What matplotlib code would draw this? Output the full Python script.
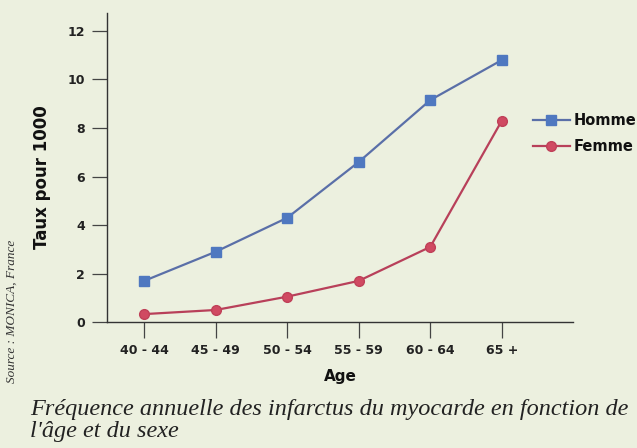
import matplotlib.pyplot as plt

ages = ['40 - 44', '45 - 49', '50 - 54', '55 - 59', '60 - 64', '65 +']
homme = [1.7, 2.9, 4.3, 6.6, 9.15, 10.8]
femme = [0.33, 0.5, 1.05, 1.7, 3.1, 8.3]
yticks = [0, 2, 4, 6, 8, 10, 12]

bg = '#ecf0df'
sans = ['DejaVu Sans']

fig = plt.figure(figsize=(6.37, 4.48), dpi=100, facecolor=bg)
ax = fig.add_axes([0.168, 0.281, 0.732, 0.69], facecolor=bg)

x = range(len(ages))
ax.plot(x, homme, color='#5a6fa8', lw=1.6, marker='s', ms=7,
        mfc='#4f78c0', mec='#4f78c0', label='Homme')
ax.plot(x, femme, color='#b8405a', lw=1.6, marker='o', ms=7,
        mfc='#d04a62', mec='#c04058', label='Femme')

ax.set_xlim(-0.52, 6.0)
ax.set_ylim(0, 12.74)
ax.set_yticks(yticks)
ax.set_xticks(list(x))
ax.set_xticklabels(ages)
for s in ['top', 'right']:
    ax.spines[s].set_visible(False)
for s in ['left', 'bottom']:
    ax.spines[s].set_color('#333333')
    ax.spines[s].set_linewidth(1.0)
ax.tick_params(axis='y', length=11, width=0.9, color='#444444', pad=5)
ax.tick_params(axis='x', length=11.5, width=0.9, color='#444444', pad=4)
for lab in ax.get_xticklabels() + ax.get_yticklabels():
    lab.set_family(sans)
    lab.set_fontweight('bold')
    lab.set_fontsize(9)
    lab.set_color('#222222')

ax.set_xlabel('Age', family=sans, fontweight='bold', fontsize=11, color='#111111', labelpad=9)
ax.set_ylabel('Taux pour 1000', family=sans, fontweight='bold', fontsize=12, color='#111111',
              va='center')
ax.yaxis.set_label_coords(-0.139, 0.47)

leg = fig.legend(loc='center left', bbox_to_anchor=(0.837, 0.702), frameon=False,
                 borderpad=0, borderaxespad=0,
                 handlelength=2.5, handletextpad=0.27, labelspacing=0.7,
                 prop={'family': sans, 'weight': 'bold', 'size': 10.5})
for t in leg.get_texts():
    t.set_color('#111111')

fig.text(0.019, 0.304, 'Source : MONICA, France', rotation=90, ha='center', va='center',
         family='Liberation Serif', style='italic', fontsize=9.5, color='#333333')

fig.text(0.047, 0.085, 'Fréquence annuelle des infarctus du myocarde en fonction de',
         family='Liberation Serif', style='italic', fontsize=17.5, color='#222222', va='center')
fig.text(0.047, 0.036, "l'âge et du sexe",
         family='Liberation Serif', style='italic', fontsize=17.5, color='#222222', va='center')

fig.savefig('out.png', dpi=100, facecolor=bg)
